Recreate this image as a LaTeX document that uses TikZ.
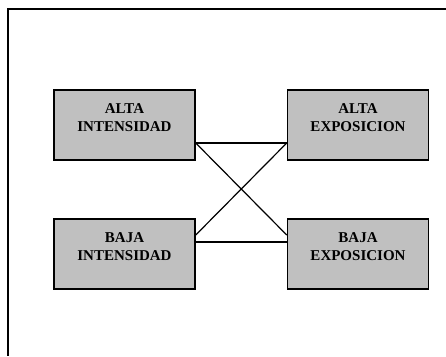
\documentclass[tikz,border=0pt]{standalone}
\usepackage{fontspec}
\setmainfont{Liberation Serif}
\begin{document}
\begin{tikzpicture}[x=1pt,y=-1pt,
  box/.style={draw=black,line width=1.5pt,fill={rgb,255:red,192;green,192;blue,192},minimum width=141pt,minimum height=70pt,inner sep=0pt},
  lbl/.style={font=\fontsize{15}{18}\selectfont\bfseries,align=center,inner sep=0pt,anchor=north},
  link/.style={draw=black,line width=1.2pt}]
\useasboundingbox (0,0) rectangle (446,356);
\fill[white] (0,0) rectangle (446,356);
\coordinate (ftop) at (446,9);
\coordinate (fcorner) at (8,9);
\coordinate (fbot) at (8,356);
\draw[line width=2pt] (ftop) -- (fcorner) -- (fbot);
\node[box] (ai) at (124.5,125) {};
\node[box] (bi) at (124.5,254) {};
\node[box] (ae) at (358,125) {};
\node[box] (be) at (358,254) {};
\node[lbl] (tai) at ([yshift=-14pt]ai.north) {ALTA\\INTENSIDAD};
\node[lbl] (tbi) at ([yshift=-14pt]bi.north) {BAJA\\INTENSIDAD};
\node[lbl] (tae) at ([yshift=-14pt]ae.north) {ALTA\\EXPOSICION};
\node[lbl] (tbe) at ([yshift=-14pt]be.north) {BAJA\\EXPOSICION};
\draw[link] ([yshift=-18pt]ai.east) -- ([yshift=-18pt]ae.west);
\draw[link] ([yshift=-18pt]ai.east) -- ([yshift=19pt]be.west);
\draw[link] ([yshift=19pt]bi.east) -- ([yshift=-18pt]ae.west);
\draw[link] ([yshift=12pt]bi.east) -- ([yshift=12pt]be.west);
\end{tikzpicture}
\end{document}
